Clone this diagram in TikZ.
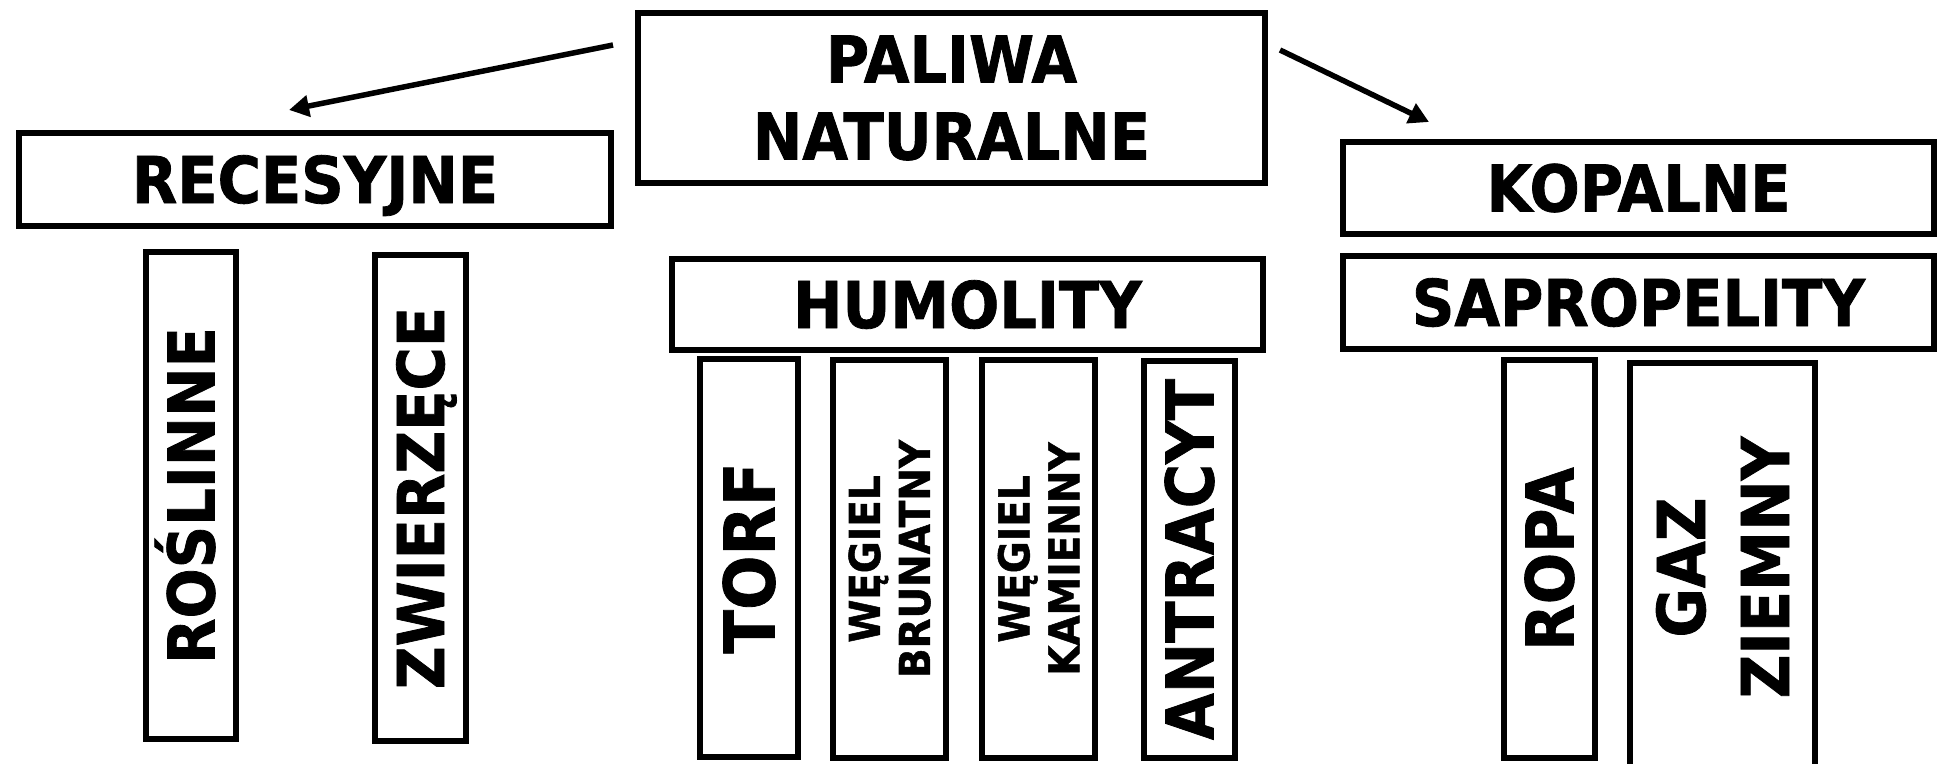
\documentclass[tikz,border=0pt]{standalone}
\usepackage{fontspec}
\newfontfamily\lbl{DejaVu Sans}[FakeStretch=0.915,FakeBold=1.2]
\usetikzlibrary{arrows.meta}
\begin{document}
\begin{tikzpicture}[x=1pt,y=-1pt,
  boxn/.style={draw,line width=6pt,inner sep=0pt,outer sep=0pt,align=center},
  fh/.style={font=\lbl\bfseries\fontsize{64.5}{77}\selectfont},
  capsh/.style={text height=#1,text depth=0pt},
  arr/.style={line width=5.5pt,-{Triangle[length=20pt,width=21pt]}}
]
\useasboundingbox[fill=white] (0,0) rectangle (1945,763);

% top level
\node[boxn,fh,minimum width=627pt,minimum height=170pt] (pal) at (951.5,98) {PALIWA\\NATURALNE};
\node[boxn,fh,capsh=47pt,minimum width=592pt,minimum height=93pt] (rec) at (315,179.5) {RECESYJNE};
\node[boxn,fh,capsh=47pt,minimum width=591pt,minimum height=92pt] (kop) at (1638.5,188) {KOPALNE};
\node[boxn,fh,capsh=47pt,minimum width=591pt,minimum height=93pt] (sap) at (1638.5,302.5) {SAPROPELITY};
\node[boxn,fh,capsh=47pt,minimum width=591pt,minimum height=91pt] (hum) at (967.5,304.5) {HUMOLITY};

% recesyjne children
\node[boxn,fh,capsh=47pt,rotate=90,minimum width=487pt,minimum height=90pt] (ros) at (191,495.5) {ROŚLINNE};
\node[boxn,fh,capsh=47pt,rotate=90,minimum width=486pt,minimum height=91pt] (zwi) at (420.5,498) {ZWIERZĘCE};

% humolity children
\node[boxn,font=\lbl\bfseries\fontsize{70}{80}\selectfont,capsh=51pt,rotate=90,minimum width=398pt,minimum height=98pt] (tor) at (749,558) {TORF};
\node[boxn,font=\lbl\bfseries\fontsize{42.5}{50}\selectfont,rotate=90,minimum width=398pt,minimum height=113pt] (wbr) at (889.5,559) {WĘGIEL\\BRUNATNY};
\node[boxn,font=\lbl\bfseries\fontsize{42.5}{50}\selectfont,rotate=90,minimum width=398pt,minimum height=113pt] (wka) at (1038.5,559) {WĘGIEL\\KAMIENNY};
\node[boxn,font=\lbl\bfseries\fontsize{66}{80}\selectfont,capsh=48pt,rotate=90,minimum width=397pt,minimum height=91pt] (ant) at (1189.5,559.5) {ANTRACYT};

% sapropelity children
\node[boxn,font=\lbl\bfseries\fontsize{66}{80}\selectfont,capsh=48pt,rotate=90,minimum width=398pt,minimum height=91pt] (rop) at (1549.5,559) {ROPA};
\node[boxn,font=\lbl\bfseries\fontsize{66}{84}\selectfont,rotate=90,minimum width=410pt,minimum height=185pt] (gaz) at (1722.5,567.5) {GAZ\\ZIEMNY};

% arrows
\coordinate (ls) at (613,45);
\coordinate (le) at (289,110);
\coordinate (rs) at (1280,50);
\coordinate (re) at (1429,122);
\draw[arr] (ls) -- (le);
\draw[arr] (rs) -- (re);
\end{tikzpicture}
\end{document}
